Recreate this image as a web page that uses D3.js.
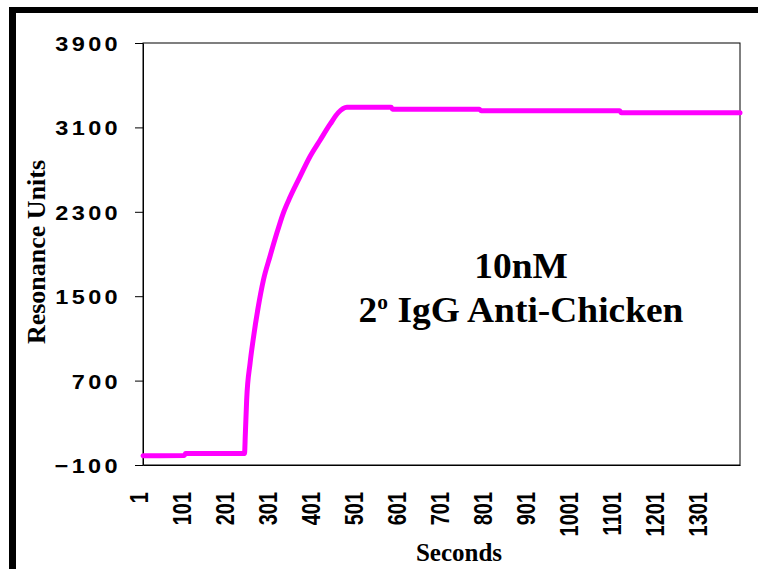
<!DOCTYPE html>
<html>
<head>
<meta charset="utf-8">
<script src="https://cdn.jsdelivr.net/npm/d3@7"></script>
<style>
  html, body { margin: 0; padding: 0; background: #fff; }
  svg { display: block; }
</style>
</head>
<body>
<svg id="chart" width="758" height="569"></svg>
<script>
// Sensorgram: binding of 2° IgG anti-chicken (10 nM)
const seconds = [1, 97, 100, 237, 239, 242, 250, 257, 269, 281, 296, 312, 327, 343, 366, 389, 413, 436, 455, 475, 578, 581, 783, 787, 1109, 1113, 1389];
const resonance = [-12, -10, 8, 10, 200, 516, 867, 1085, 1400, 1654, 1874, 2096, 2286, 2440, 2633, 2822, 2981, 3130, 3240, 3290, 3290, 3272, 3272, 3257, 3257, 3238, 3238];
const yTicks = [-100, 700, 1500, 2300, 3100, 3900];
const xTicks = [1, 101, 201, 301, 401, 501, 601, 701, 801, 901, 1001, 1101, 1201, 1301];
const xTitle = "Seconds";
const yTitle = "Resonance Units";
const noteLine1 = "10nM";

const svg = d3.select("#chart");
const plot = { left: 143, top: 43, right: 740, bottom: 465 };

const x = d3.scaleLinear().domain([1, 1389]).range([plot.left, plot.right]);
const y = d3.scaleLinear().domain([-100, 3900]).range([plot.bottom, plot.top]);

// page frame
svg.append("rect").attr("x", 9).attr("y", 7).attr("width", 749).attr("height", 6).attr("fill", "#000");
svg.append("rect").attr("x", 9).attr("y", 7).attr("width", 7).attr("height", 562).attr("fill", "#000");

// plot area
svg.append("rect")
  .attr("x", plot.left).attr("y", plot.top)
  .attr("width", plot.right - plot.left).attr("height", plot.bottom - plot.top)
  .attr("fill", "#fff").attr("stroke", "#000").attr("stroke-width", 1);

// y axis
const yAxis = svg.append("g")
  .attr("transform", `translate(${plot.left},0)`)
  .call(d3.axisLeft(y).tickValues(yTicks).tickSize(8).tickSizeOuter(0).tickFormat(d3.format("d")));
yAxis.select(".domain").attr("stroke", "#000");
yAxis.selectAll(".tick line").attr("stroke", "#000");
yAxis.selectAll(".tick text")
  .attr("x", 0).attr("dy", "0.36em")
  .attr("text-anchor", "end")
  .attr("transform", "translate(-22,0) scale(1.12,1)")
  .style("font-family", "'Liberation Sans', Arial, sans-serif")
  .style("font-weight", "bold")
  .style("font-size", "21px")
  .style("letter-spacing", "3px")
  .attr("fill", "#000");

// x axis (labels only, rotated)
const xAxis = svg.append("g")
  .attr("transform", `translate(0,${plot.bottom})`)
  .call(d3.axisBottom(x).tickValues(xTicks).tickSize(0).tickSizeOuter(0).tickFormat(d3.format("d")));
xAxis.select(".domain").attr("stroke", "#000");
xAxis.selectAll(".tick text")
  .attr("x", 0).attr("y", 0).attr("dy", "0.14em")
  .attr("text-anchor", "end")
  .attr("transform", "translate(1,27) scale(1.3,1) rotate(-90)")
  .style("font-family", "'Liberation Sans', Arial, sans-serif")
  .style("font-weight", "bold")
  .style("font-size", "20px")
  .attr("fill", "#000");

// sensorgram trace
const pts = seconds.map((s, i) => [s, resonance[i]]);
svg.append("path")
  .datum(pts)
  .attr("fill", "none")
  .attr("stroke", "#FF00FF")
  .attr("stroke-width", 5)
  .attr("stroke-linejoin", "round")
  .attr("stroke-linecap", "round")
  .attr("d", d3.line().x(d => x(d[0])).y(d => y(d[1])).curve(d3.curveMonotoneX));

// axis titles
svg.append("text")
  .attr("x", 459).attr("y", 561)
  .attr("text-anchor", "middle")
  .style("font-family", "'Liberation Serif', 'Times New Roman', serif")
  .style("font-weight", "bold").style("font-size", "25px")
  .text(xTitle);

svg.append("text")
  .attr("transform", "translate(45,252) rotate(-90)")
  .attr("text-anchor", "middle")
  .style("font-family", "'Liberation Serif', 'Times New Roman', serif")
  .style("font-weight", "bold").style("font-size", "26px")
  .text(yTitle);

// annotation
const note = svg.append("g")
  .attr("transform", "translate(521,0) scale(1.07,1)")
  .style("font-family", "'Liberation Serif', 'Times New Roman', serif")
  .style("font-weight", "bold").style("font-size", "35px")
  .attr("text-anchor", "middle");
note.append("text").attr("x", 0).attr("y", 278).text(noteLine1);
const l2 = note.append("text").attr("x", 0).attr("y", 322);
l2.append("tspan").text("2");
l2.append("tspan").attr("dy", -13).style("font-size", "20px").text("o");
l2.append("tspan").attr("dy", 13).text(" IgG Anti-Chicken");
</script>
</body>
</html>
